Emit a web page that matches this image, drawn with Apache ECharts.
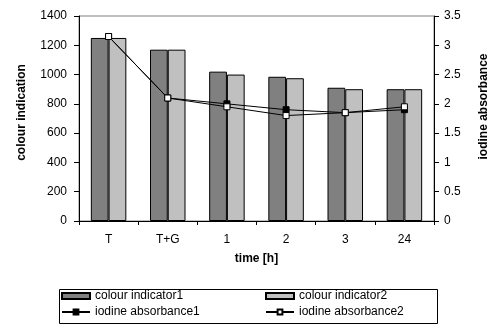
<!DOCTYPE html>
<html>
<head>
<meta charset="utf-8">
<script src="https://cdn.jsdelivr.net/npm/echarts@6/dist/echarts.min.js"></script>
<style>
  html, body { margin: 0; padding: 0; background: #fff; }
  #chart { width: 504px; height: 329px; }
</style>
</head>
<body>
<div id="chart"></div>
<script>
// Sampling times
const categories = ['T', 'T+G', '1', '2', '3', '24'];
// Colour indication (left axis)
const colourIndicator1 = [1250, 1170, 1020, 985, 910, 900];
const colourIndicator2 = [1250, 1170, 1000, 975, 900, 900];
// Iodine absorbance (right axis)
const iodineAbsorbance1 = [3.15, 2.1, 2.0, 1.9, 1.85, 1.9];
const iodineAbsorbance2 = [3.15, 2.1, 1.95, 1.8, 1.85, 1.95];

const FONT = '"Liberation Sans", Arial, sans-serif';
const chart = echarts.init(document.getElementById('chart'), null, { renderer: 'canvas' });

// One legend block per entry so the two columns line up
function legendEntry(name, left, top, icon) {
  return {
    orient: 'horizontal',
    left: left,
    top: top,
    padding: 0,
    itemWidth: 28,
    itemHeight: 6,
    icon: icon,
    textStyle: { fontFamily: FONT, fontSize: 12, color: '#000' },
    selectedMode: false,
    data: [name]
  };
}

const plainNumber = v => String(v);

chart.setOption({
  animation: false,
  backgroundColor: '#fff',
  textStyle: { fontFamily: FONT },
  grid: {
    left: 79, right: 70, top: 16, bottom: 108,
    show: true, borderColor: '#808080', borderWidth: 1, backgroundColor: 'transparent'
  },
  legend: [
    legendEntry('colour indicator1', 61, 290, 'rect'),
    legendEntry('colour indicator2', 265, 290, 'rect'),
    legendEntry('iodine absorbance1', 61, 306),
    legendEntry('iodine absorbance2', 265, 306)
  ],
  graphic: [{
    type: 'rect',
    shape: { x: 59.5, y: 289.5, width: 378, height: 34 },
    style: { fill: 'none', stroke: '#000', lineWidth: 1 },
    z: -1
  }],
  xAxis: {
    type: 'category',
    data: categories,
    name: 'time [h]',
    nameLocation: 'middle',
    nameGap: 32,
    nameTextStyle: { fontFamily: FONT, fontSize: 12, fontWeight: 'bold', color: '#000' },
    axisLine: { lineStyle: { color: '#000', width: 1 } },
    axisTick: { show: true, length: 4, alignWithLabel: false, lineStyle: { color: '#000' } },
    axisLabel: { fontFamily: FONT, fontSize: 12, color: '#000', margin: 13 },
    splitLine: { show: false }
  },
  yAxis: [{
    type: 'value',
    min: 0, max: 1400, interval: 200,
    name: 'colour indication',
    nameLocation: 'middle',
    nameGap: 51,
    nameRotate: 90,
    nameTextStyle: { fontFamily: FONT, fontSize: 12, fontWeight: 'bold', color: '#000', padding: [0, 0, 0, 12] },
    axisLine: { show: true, lineStyle: { color: '#000', width: 1 } },
    axisTick: { show: true, length: 5, lineStyle: { color: '#000' } },
    axisLabel: { fontFamily: FONT, fontSize: 12, color: '#000', margin: 12, formatter: plainNumber },
    splitLine: { show: false }
  }, {
    type: 'value',
    position: 'right',
    min: 0, max: 3.5, interval: 0.5,
    name: 'iodine absorbance',
    nameLocation: 'middle',
    nameGap: 44,
    nameRotate: 90,
    nameTextStyle: { fontFamily: FONT, fontSize: 12, fontWeight: 'bold', color: '#000', padding: [0, 0, 0, 24] },
    axisLine: { show: true, lineStyle: { color: '#000', width: 1 } },
    axisTick: { show: true, length: 5, lineStyle: { color: '#000' } },
    axisLabel: { fontFamily: FONT, fontSize: 12, color: '#000', margin: 10, formatter: plainNumber },
    splitLine: { show: false }
  }],
  series: [{
    name: 'colour indicator1',
    type: 'bar',
    data: colourIndicator1,
    barGap: '0%',
    barCategoryGap: '40%',
    itemStyle: { color: '#808080', borderColor: '#000', borderWidth: 1 }
  }, {
    name: 'colour indicator2',
    type: 'bar',
    data: colourIndicator2,
    barGap: '0%',
    barCategoryGap: '40%',
    itemStyle: { color: '#c0c0c0', borderColor: '#000', borderWidth: 1 }
  }, {
    name: 'iodine absorbance1',
    type: 'line',
    yAxisIndex: 1,
    data: iodineAbsorbance1,
    symbol: 'rect',
    symbolSize: 6,
    lineStyle: { color: '#000', width: 1 },
    itemStyle: { color: '#000', borderColor: '#000', borderWidth: 1 },
    z: 5
  }, {
    name: 'iodine absorbance2',
    type: 'line',
    yAxisIndex: 1,
    data: iodineAbsorbance2,
    symbol: 'rect',
    symbolSize: 6,
    showAllSymbol: true,
    lineStyle: { color: '#000', width: 1 },
    itemStyle: { color: '#fff', borderColor: '#000', borderWidth: 1 },
    z: 5
  }]
});
</script>
</body>
</html>
